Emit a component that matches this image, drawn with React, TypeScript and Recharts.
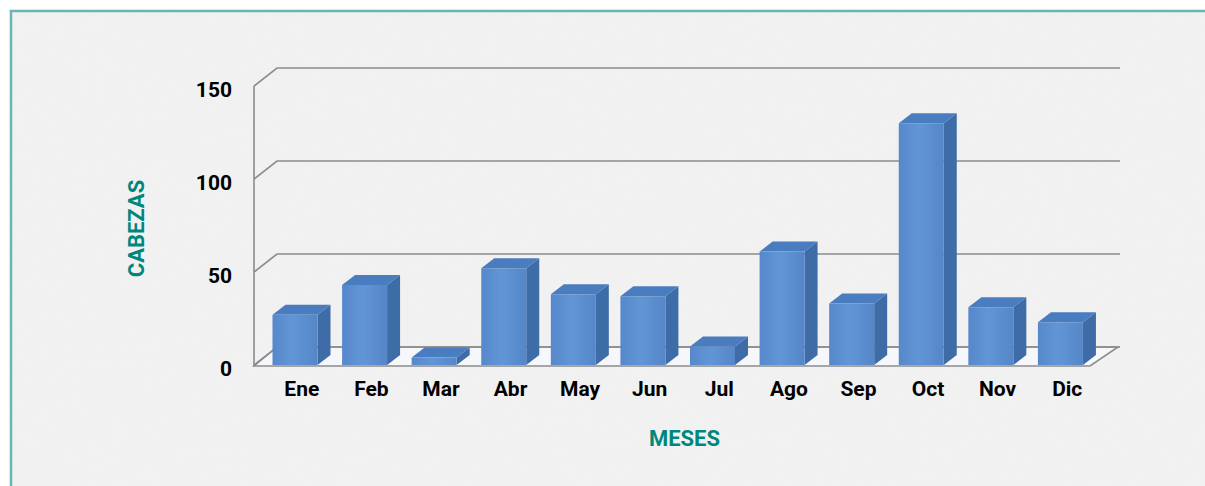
import React from 'react';
import { BarChart, Bar, XAxis, YAxis, CartesianGrid, ReferenceArea } from 'recharts';

const months = ['Ene', 'Feb', 'Mar', 'Abr', 'May', 'Jun', 'Jul', 'Ago', 'Sep', 'Oct', 'Nov', 'Dic'];
const cabezas = [27, 43, 4, 52, 38, 37, 10, 61, 33, 130, 31, 23];
const yTicks = [0, 50, 100, 150];

const data = months.map((m, i) => ({ mes: m, cabezas: cabezas[i] }));

const TEAL = '#00877d';
const GRID = '#8c8c8c';
const FONT = 'Roboto, "DejaVu Sans", sans-serif';

const DX = 13;
const DY = 10;

const Bar3D = (props: any) => {
  const { x, y, width, height } = props;
  if (width == null || height == null) return null;
  const fx = x - DX / 2;
  const base = y + height;
  const front = `M${fx},${y} L${fx + width},${y} L${fx + width},${base} L${fx},${base} Z`;
  const side = `M${fx + width},${y} L${fx + width + DX},${y - DY} L${fx + width + DX},${base - DY} L${fx + width},${base} Z`;
  const top = `M${fx},${y} L${fx + DX},${y - DY} L${fx + width + DX},${y - DY} L${fx + width},${y} Z`;
  return (
    <g>
      <path d={side} fill="#3d6ca6" />
      <path d={top} fill="#4a7dbf" />
      <path d={front} fill="url(#frontGrad)" />
    </g>
  );
};

const gridLine = (p: any) => {
  const { x1, x2, y1 } = p;
  const pts: number[] = Array.isArray(p.horizontalPoints) && p.horizontalPoints.length ? p.horizontalPoints : [];
  const maxY = pts.length ? Math.max(...pts) : p.y + p.height;
  const isFloor = Math.abs(y1 - maxY) < 0.5;
  const bx1 = x1 + 10;
  const bx2 = x2 + 18;
  const by = y1 - 18;
  return (
    <g key={p.key}>
      {isFloor && (
        <path
          d={`M${x1 - 13},${y1 + 1} L${x2 - 12},${y1 + 1} L${bx2 - 2},${by} L${bx1},${by} Z`}
          fill="#f5f7fa"
          stroke={GRID}
          strokeWidth={1.6}
        />
      )}
      <path d={`M${x1 - 13},${y1} L${bx1},${by} L${bx2},${by}`} fill="none" stroke={GRID} strokeWidth={1.6} />
    </g>
  );
};

const YTick = (props: any) => {
  const { x, y, payload } = props;
  return (
    <text x={x} y={y + 4} textAnchor="end" dominantBaseline="central" fontFamily={FONT} fontWeight={700} fontSize={21} fill="#000">
      {payload.value}
    </text>
  );
};

const XTick = (props: any) => {
  const { x, y, payload } = props;
  return (
    <text x={x} y={y} dy="0.71em" textAnchor="middle" fontFamily={FONT} fontWeight={700} fontSize={21} fill="#000">
      {payload.value}
    </text>
  );
};

const YLabel = (props: any) => {
  const vb = props.viewBox || {};
  const cx = vb.x - 71;
  const cy = vb.y + vb.height / 2 + 3;
  return (
    <text x={cx} y={cy} transform={`rotate(-90 ${cx} ${cy})`} textAnchor="middle" dominantBaseline="central" fontFamily={FONT} fontWeight={700} fontSize={22} fill={TEAL}>
      CABEZAS
    </text>
  );
};

const XLabel = (props: any) => {
  const vb = props.viewBox || {};
  const cx = vb.x + vb.width / 2;
  const cy = vb.y + 73;
  return (
    <text x={cx} y={cy} textAnchor="middle" dominantBaseline="central" fontFamily={FONT} fontWeight={700} fontSize={22} fill={TEAL}>
      MESES
    </text>
  );
};

const FrontEdge = (props: any) => {
  const { x, y, height } = props;
  if (x == null) return null;
  return <line x1={x - 13} y1={y} x2={x - 13} y2={y + height + 1} stroke={GRID} strokeWidth={1.6} />;
};

export default function App() {
  return (
    <div style={{ position: 'fixed', left: 0, top: 0, width: 1205, height: 486, background: '#fff', overflow: 'hidden' }}>
      <svg width={1205} height={486} style={{ position: 'absolute', left: 0, top: 0 }}>
        <defs>
          <filter id="paper" x="0" y="0" width="100%" height="100%">
            <feTurbulence type="fractalNoise" baseFrequency="0.35" numOctaves={2} seed={3} result="n" />
            <feColorMatrix
              in="n"
              type="matrix"
              values="0 0 0 0 0.88  0 0 0 0 0.88  0 0 0 0 0.88  0 0 0 1.2 -0.35"
            />
          </filter>
        </defs>
        <rect x={10} y={11} width={1300} height={600} fill="#f1f1f1" />
        <rect x={10} y={11} width={1300} height={600} filter="url(#paper)" opacity={0.55} />
        <line x1={9.75} y1={11} x2={1205} y2={11} stroke="#6db5b1" strokeWidth={2.5} />
        <line x1={11} y1={10} x2={11} y2={486} stroke="#6db5b1" strokeWidth={2.5} />
      </svg>
      <div style={{ position: 'absolute', left: 0, top: 0 }}>
        <BarChart width={1205} height={486} data={data} margin={{ top: 86, right: 103, left: 207, bottom: 91 }} barSize={45}>
          <defs>
            <linearGradient id="frontGrad" x1="0" y1="0" x2="1" y2="0">
              <stop offset="0%" stopColor="#5688cb" />
              <stop offset="45%" stopColor="#6196d6" />
              <stop offset="100%" stopColor="#5586c8" />
            </linearGradient>
          </defs>
          <CartesianGrid vertical={false} horizontal={gridLine} />
          <ReferenceArea y1={0} y2={150} shape={FrontEdge} ifOverflow="visible" />
          <XAxis
            dataKey="mes"
            height={30}
            axisLine={false}
            tickLine={false}
            tickSize={0}
            tickMargin={16}
            tick={<XTick />}
            interval={0}
            label={{ content: XLabel }}
          />
          <YAxis
            width={60}
            domain={[0, 150]}
            ticks={yTicks}
            axisLine={false}
            tickLine={false}
            tickSize={0}
            tickMargin={35}
            tick={<YTick />}
            label={{ content: YLabel }}
          />
          <Bar dataKey="cabezas" shape={Bar3D} isAnimationActive={false} />
        </BarChart>
      </div>
    </div>
  );
}
